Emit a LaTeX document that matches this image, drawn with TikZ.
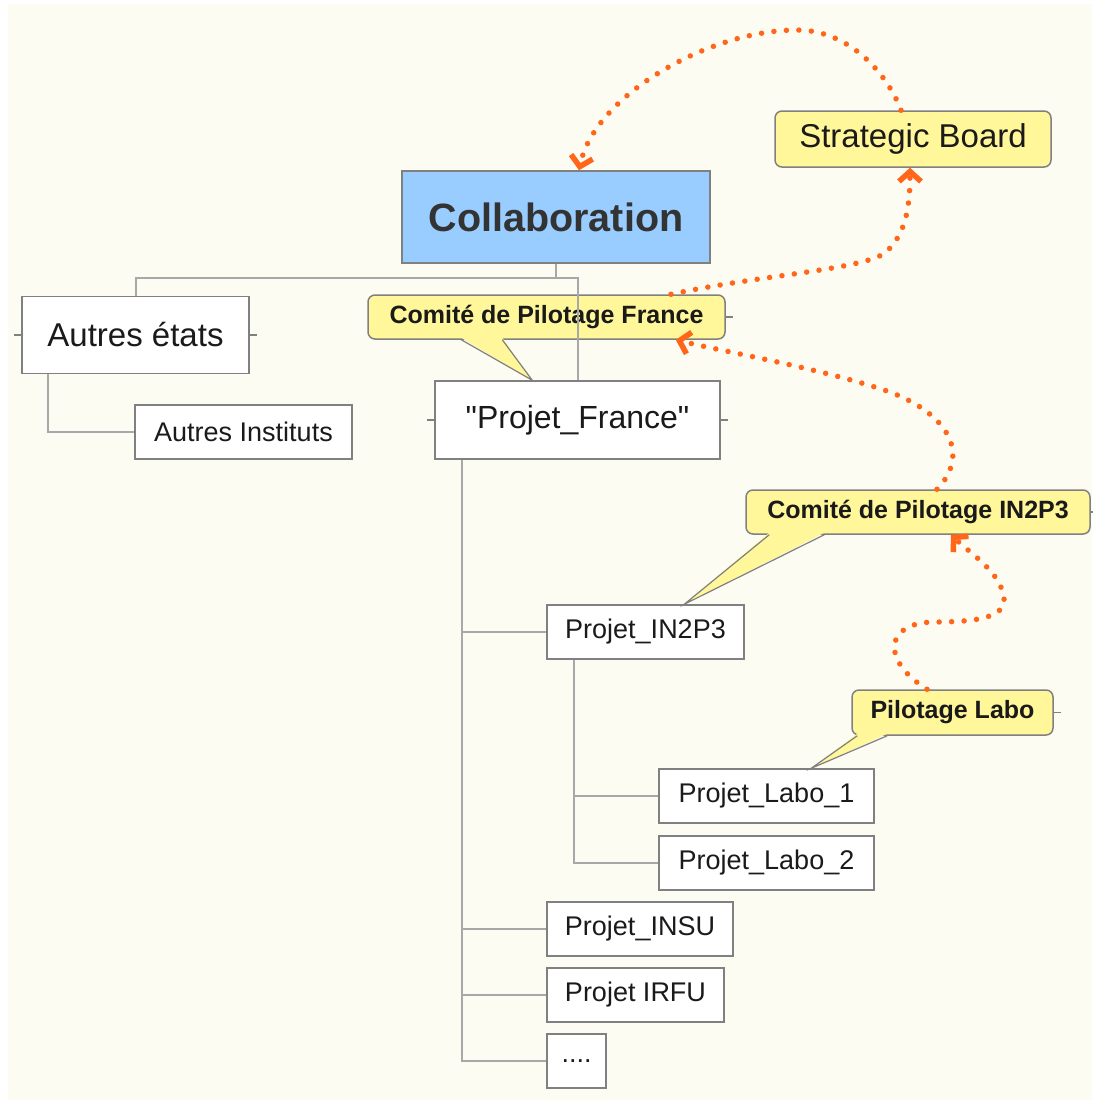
\documentclass[tikz,border=0pt]{standalone}
\usepackage{fontspec}
\setmainfont{Liberation Sans}
\usetikzlibrary{arrows.meta}

\definecolor{paper}{HTML}{FDFCF3}
\definecolor{collabblue}{HTML}{99CCFF}
\definecolor{noteyellow}{HTML}{FFF799}
\definecolor{boxgray}{HTML}{808080}
\definecolor{linkgray}{HTML}{A8A8A8}
\definecolor{flowred}{HTML}{FF6619}
\definecolor{inktext}{HTML}{1A1A1A}
\definecolor{darktext}{HTML}{333333}

\tikzset{
  topic/.style={draw=boxgray, line width=1.5pt, fill=white, inner sep=0pt,
    text=inktext, font=\fontsize{33}{38}\selectfont},
  subtopic/.style={topic, minimum height=54pt, font=\fontsize{27}{32}\selectfont},
  note/.style={draw=boxgray, line width=1.5pt, fill=noteyellow, rounded corners=7pt,
    inner sep=0pt, text=inktext, font=\bfseries\fontsize{25}{30}\selectfont},
  link/.style={draw=linkgray, line width=2pt},
  tick/.style={draw=boxgray, line width=1.2pt},
  flow/.style={draw=flowred, line width=5.5pt, line cap=round,
    dash pattern=on 0pt off 12.5pt, -{Straight Barb[length=10pt,width=22pt]}},
}

\begin{document}
\begin{tikzpicture}[x=1pt,y=-1pt]

\useasboundingbox (0,0) rectangle (1092,1100);
\fill[white] (0,0) rectangle (1092,1100);
\fill[paper] (8,4) rectangle (1092,1100);

% main topics
\node[topic, fill=collabblue, minimum width=308pt, minimum height=92pt,
  text=darktext, font=\bfseries\fontsize{39.5}{44}\selectfont] (collab) at (556,217) {Collaboration};
\node[note, minimum width=276pt, minimum height=56pt,
  font=\fontsize{33}{38}\selectfont] (board) at (913,139) {Strategic Board};
\node[topic, minimum width=227pt, minimum height=77pt] (autres) at (135.5,335) {Autres états};
\node[subtopic, minimum width=217pt] (instituts) at (243.5,432) {Autres Instituts};
\node[topic, minimum width=285pt, minimum height=78pt,
  font=\fontsize{32}{38}\selectfont] (france) at (577.5,420) {\textquotedbl Projet\_France\textquotedbl};

% sub projects
\node[subtopic, minimum width=197pt] (in2p3) at (645.5,632) {Projet\_IN2P3};
\node[subtopic, minimum width=215pt] (labo1) at (766.5,796) {Projet\_Labo\_1};
\node[subtopic, minimum width=215pt] (labo2) at (766.5,863) {Projet\_Labo\_2};
\node[subtopic, minimum width=186pt] (insu) at (640,929) {Projet\_INSU};
\node[subtopic, minimum width=177pt] (irfu) at (635.5,995) {Projet IRFU};
\node[subtopic, minimum width=59pt] (more) at (576.5,1061) {....};

% callouts
\node[note, minimum width=357pt, minimum height=44pt] (cpf) at (546.5,317) {Comité de Pilotage France};
\node[note, minimum width=344pt, minimum height=44pt] (cin) at (918,512) {Comité de Pilotage IN2P3};
\node[note, minimum width=201pt, minimum height=45pt] (plabo) at (952.5,712.5) {Pilotage Labo};

\fill[noteyellow] ([shift={(94pt,2pt)}]cpf.south west) -- ([xshift=98pt]france.north west)
  -- ([shift={(135pt,2pt)}]cpf.south west) -- cycle;
\draw[tick] ([xshift=94pt]cpf.south west) -- ([xshift=98pt]france.north west) -- ([xshift=135pt]cpf.south west);
\fill[noteyellow] ([shift={(24pt,2pt)}]cin.south west) -- ([xshift=138pt]in2p3.north west)
  -- ([shift={(79pt,2pt)}]cin.south west) -- cycle;
\draw[tick] ([xshift=24pt]cin.south west) -- ([xshift=138pt]in2p3.north west) -- ([xshift=79pt]cin.south west);
\fill[noteyellow] ([shift={(6pt,2pt)}]plabo.south west) -- ([xshift=153pt]labo1.north west)
  -- ([shift={(36pt,2pt)}]plabo.south west) -- cycle;
\draw[tick] ([xshift=6pt]plabo.south west) -- ([xshift=153pt]labo1.north west) -- ([xshift=36pt]plabo.south west);

% tree links
\coordinate (bar) at (0,278);
\draw[link] (collab.south) -- (collab.south |- bar);
\draw[link] (autres.north) -- (autres.north |- bar) -- (france.north |- bar) -- (france.north);
\draw[link] ([xshift=27pt]autres.south west) |- (instituts.west);

\coordinate (ftrunk) at ([xshift=28pt]france.south west);
\draw[link] (ftrunk) |- (more.west);
\foreach \n in {in2p3,insu,irfu}
  \draw[link] (ftrunk |- \n.west) -- (\n.west);

\coordinate (itrunk) at ([xshift=28pt]in2p3.south west);
\draw[link] (itrunk) |- (labo2.west);
\draw[link] (itrunk |- labo1.west) -- (labo1.west);

% little stubs
\foreach \n in {autres,france}
  \draw[tick] (\n.west) -- ++(-7,0);
\foreach \n in {autres,france,cpf,cin,plabo}
  \draw[tick] (\n.east) -- ++(7,0);

% reporting arrows
\draw[flow] ([xshift=-12pt]board.north) .. controls (888,75) and (850,30) .. (797,30)
  .. controls (710,30) and (595,95) .. ([xshift=23pt]collab.north);
\draw[flow] ([xshift=124.5pt]cpf.north) .. controls (760,275) and (860,270) .. (885,253)
  .. controls (905,235) and (910,210) .. ([xshift=-3pt]board.south);
\draw[flow] ([xshift=19pt]cin.north) .. controls (970,455) and (950,415) .. (890,392)
  .. controls (820,368) and (725,352) .. ([xshift=-50pt]cpf.south east);
\draw[flow] ([xshift=-25.5pt]plabo.north) .. controls (880,660) and (885,622) .. (935,622)
  .. controls (985,622) and (1010,615) .. (1003,593)
  .. controls (997,570) and (970,553) .. ([xshift=33pt]cin.south);

\end{tikzpicture}
\end{document}
